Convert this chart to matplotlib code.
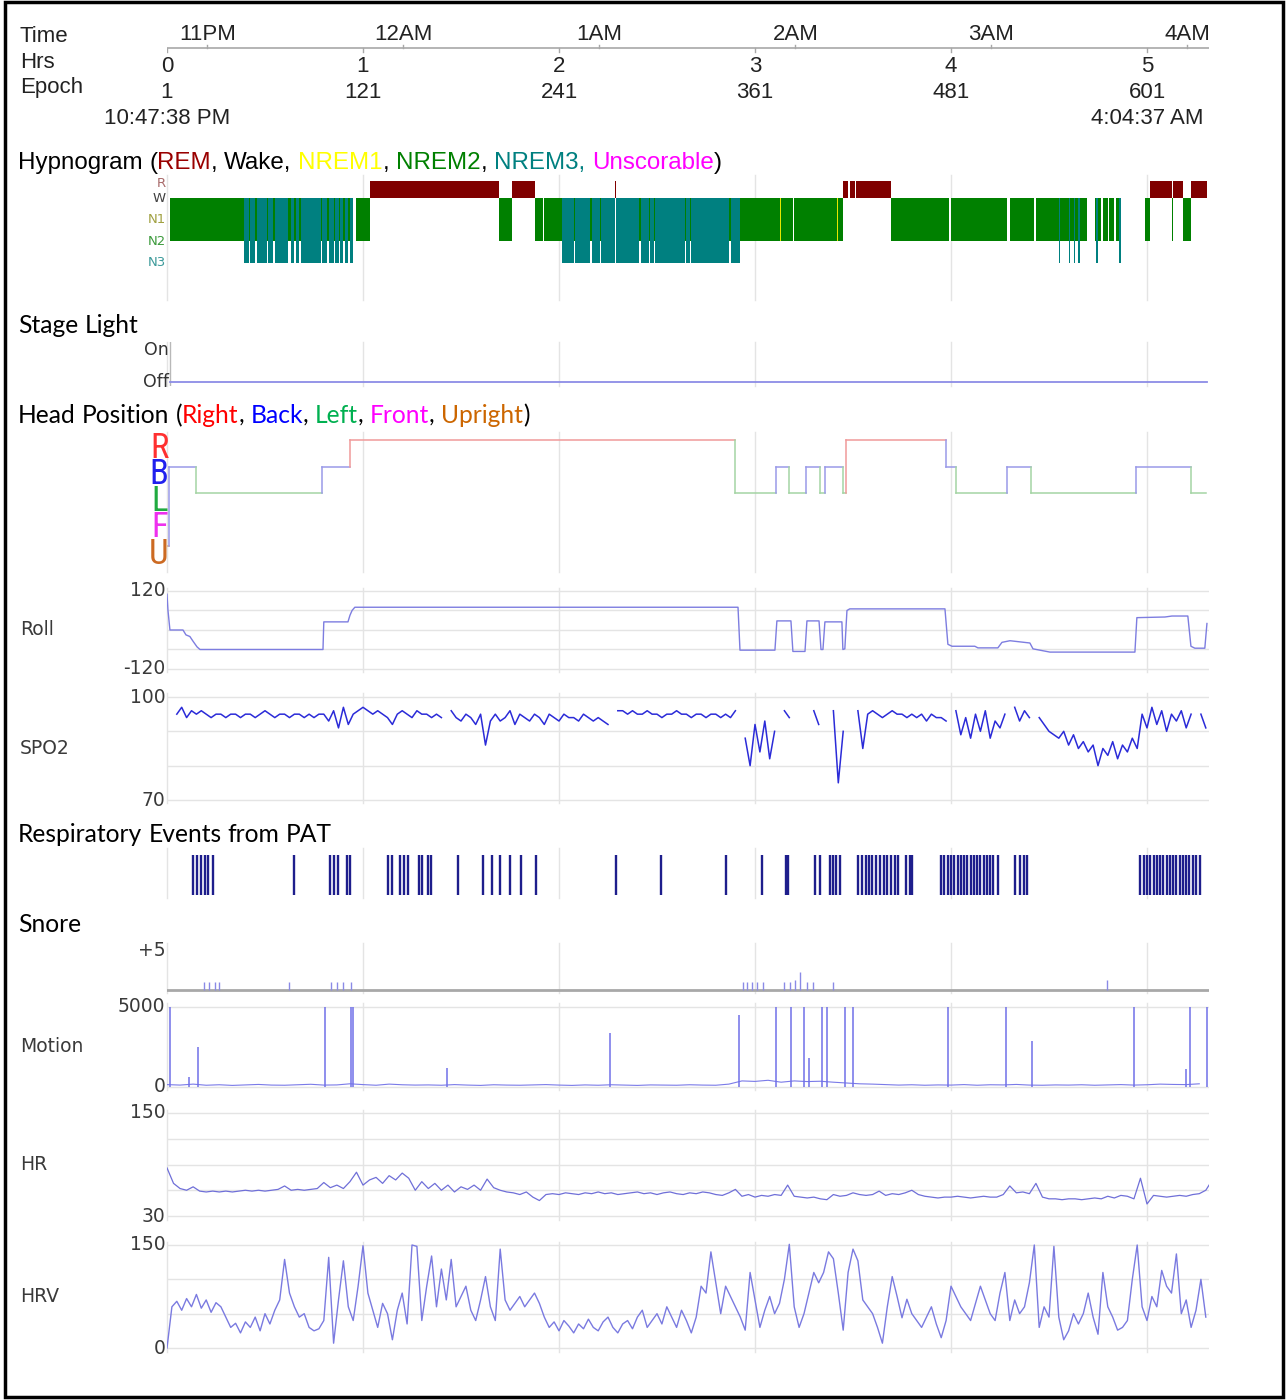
import re
import numpy as np
import matplotlib
matplotlib.use("Agg")
import matplotlib.pyplot as plt
from matplotlib.patches import Rectangle
from matplotlib import font_manager as fm

# ============================ DATA ============================
clock_labels = ["11PM", "12AM", "1AM", "2AM", "3AM", "4AM"]
clock_hour24 = [23, 24, 25, 26, 27, 28]
start_hms = [22, 47, 38]
start_label = "10:47:38 PM"
end_label = "4:04:37 AM"
hour_labels = ["0", "1", "2", "3", "4", "5"]
epoch_labels = [1, 121, 241, 361, 481, 601]

# hypnogram as run-lengths of 30 s epochs
hyp_stage = ["W", "N2", "N3", "N2", "N3", "N2", "N3", "N2", "N3", "N2",
             "N3", "N2", "N3", "N2", "N3", "N2", "N3", "N2", "N3", "N2",
             "N3", "N2", "N3", "N2", "N3", "N2", "N3", "N2", "N3", "W",
             "N2", "R", "N2", "R", "N2", "W", "N2", "N3", "N2", "N3",
             "N2", "N3", "N2", "N3", "R", "N3", "N2", "N3", "N2", "N3",
             "N2", "N3", "N2", "N3", "N2", "N3", "N2", "N3", "N2", "N1",
             "N2", "W", "N2", "N1", "N2", "R", "W", "R", "W", "R",
             "N2", "W", "N2", "W", "N2", "W", "N2", "N3", "N2", "N3",
             "N2", "N3", "N2", "N3", "N2", "W", "N2", "N3", "N2", "W",
             "N2", "W", "N2", "W", "N2", "N3", "W", "N2", "R", "N2",
             "R", "N2", "R"]
hyp_len = [2, 45, 3, 1, 3, 1, 6, 1, 3, 1,
           8, 2, 2, 1, 2, 1, 12, 1, 3, 1,
           3, 1, 2, 1, 2, 1, 2, 1, 2, 2,
           8, 79, 8, 14, 5, 1, 11, 7, 1, 9,
           1, 5, 1, 8, 1, 14, 1, 5, 1, 2,
           1, 18, 1, 2, 1, 23, 1, 6, 24, 1,
           7, 1, 26, 1, 3, 3, 1, 3, 1, 21,
           36, 1, 34, 2, 15, 1, 14, 1, 5, 1,
           2, 1, 2, 1, 4, 5, 1, 1, 2, 1,
           3, 1, 3, 1, 2, 1, 15, 3, 13, 1,
           6, 5, 10]

light_epochs = [3, 638]
light_state = [0, 0]

hp_stage = ["U", "B", "L", "B", "R", "L", "B", "L", "B", "L",
            "B", "L", "R", "B", "L", "B", "L", "B", "L"]
hp_len = [1, 17, 77, 17, 236, 25, 8, 10, 9, 3,
          11, 2, 61, 6, 31, 15, 64, 34, 9]

roll_epochs = [1, 1.6, 2.8, 10.8, 12.6, 15, 17, 19.4, 21.2, 96.5,
               97, 111.8, 113, 114.3, 116, 350.6, 351.8, 373.2, 374.4, 383,
               384.2, 391.6, 392.8, 400.2, 401.4, 402.6, 403.8, 414.2, 414.8, 416,
               417.3, 419, 477.3, 479.1, 481.6, 495.6, 497.5, 509.7, 512.2, 517.1,
               529.3, 531.2, 541.6, 593.6, 594.8, 612, 616.3, 626, 627.9, 630.3,
               636.4, 637.7]
roll_values = [110, 60, 0, 0, -15, -20, -35, -52, -60, -60,
               25, 25, 45, 60, 70, 70, -62, -62, 28, 28,
               -66, -66, 28, 28, -60, -60, 25, 25, -60, -58,
               60, 65, 65, -44, -50, -50, -55, -55, -38, -33,
               -40, -58, -68, -68, 38, 40, 43, 43, -50, -56,
               -56, 20]

nan = float("nan")
spo2_start, spo2_step = 1, 3
spo2 = [nan, nan,
        95, 97, 94, 96, 95, 96, 95, 94, 95, 95, 94, 95, 95, 94, 95,
        95, 94, 95, 96, 95, 94, 95, 95, 94, 95, 95, 94, 95, 94, 95,
        95, 93, 96, 91, 97, 92, 95,
        96, 97, 96, 95, 96, 95, 94, 92, 95, 96, 95, 94, 96, 95, 95, 94, 95, 94,
        nan,
        96, 94, 93, 95, 94, 92, 95, 86, 93, 95, 93, 94, 96, 92, 95, 94, 93,
        95, 94, 92, 95, 94, 93, 95, 94, 94, 93, 95, 94, 93, 94, 93, 92,
        nan,
        96, 96, 95, 96, 95, 95, 96, 95, 95, 94, 95, 95, 96, 95, 95, 94, 95,
        95, 94, 95, 95, 94, 95, 94, 96,
        nan,
        88, 80, 92, 84, 93, 82, 90,
        nan, 96, 94, nan, nan, nan, nan, 96, 92, nan, nan, 96, 75, 90, nan, nan,
        96, 85, 95, 96, 95, 94, 95, 96, 95, 95, 94, 95, 94, 95, 93, 95, 94, 94, 93,
        nan,
        96, 89, 94, 88, 95, 90, 96, 88, 93, 91, 95,
        nan,
        97, 93, 96, 94,
        nan,
        94, 92, 90, 89, 88, 90, 86, 89, 85, 87, 84, 86, 80, 85, 83, 87, 82, 86, 84, 88, 85,
        95, 91, 97, 92, 96, 90, 95, 93, 96, 91, 95,
        nan, 95, 91]

resp_events = [17, 19.5, 22, 24.5, 26, 29, 79, 101, 103, 105.5,
               111, 113, 136, 139, 143.5, 146, 148.5, 155, 157, 161,
               162.5, 179, 194.5, 200, 205, 211, 218, 227, 276, 303.5,
               343, 365, 380, 381, 398, 401, 407, 408.5, 410.5, 413,
               424, 426.5, 429, 431, 432.5, 435, 437.5, 440, 442, 444,
               446.5, 448.5, 453.5, 456, 457, 475, 477, 479, 481, 483,
               485, 487, 489, 491, 493, 495, 497, 499, 501, 503,
               505, 507, 509.5, 520, 523, 525.5, 527.5, 597, 599, 601,
               603, 605, 607, 609, 611, 613, 615, 617, 619, 621,
               623, 625, 627, 629, 631, 633.5]

snore_epochs = [23.7, 26.7, 30.4, 32.8, 75.7, 101.4, 105.1, 108.7, 113.6, 353.6,
                356, 359, 362, 365.9, 378.7, 382.4, 385.5, 388.5, 392.8, 396.5,
                408.7, 576.5]
snore_level = [1, 1, 1, 1, 1, 1, 1, 1, 1, 1,
               1, 1, 1, 1, 1, 1, 1.2, 2.2, 1, 1,
               1, 1.2]

motion_start, motion_step = 1, 8
motion_base = [150, 120, 180, 110, 140, 100, 130, 160, 120, 110,
               140, 170, 120, 130, 200, 150, 110, 180, 140, 120,
               130, 110, 150, 120, 100, 140, 120, 110, 130, 150,
               120, 100, 130, 110, 140, 120, 100, 130, 120, 110,
               140, 120, 110, 180, 380, 350, 420, 300, 380, 340,
               360, 300, 250, 200, 180, 150, 120, 140, 110, 130,
               120, 150, 110, 140, 130, 160, 120, 110, 130, 120,
               140, 110, 130, 150, 120, 140, 180, 160, 150, 200]
motion_spike_epochs = [2.8, 14.5, 20, 98, 113.6, 114.9, 172.4, 272, 351.2, 373.8,
                       383, 391, 394, 402, 405, 416, 421, 479, 514.6, 530.6,
                       593, 624.9, 627.3, 637.7]
motion_spike_values = [5000, 600, 2500, 5000, 5000, 5000, 1200, 3400, 4500, 5000,
                       5000, 5000, 1800, 5000, 5000, 5000, 5000, 5000, 5000, 2900,
                       5000, 1100, 5000, 5000]

hr_start, hr_step = 1, 4
hr = [86, 68, 62, 60, 64, 59, 58, 59, 58, 59,
      58, 59, 60, 59, 60, 59, 60, 61, 65, 60,
      61, 60, 61, 62, 69, 63, 66, 62, 70, 81,
      66, 72, 75, 68, 77, 72, 80, 74, 60, 70,
      62, 68, 60, 66, 58, 64, 61, 66, 60, 73,
      63, 60, 58, 57, 55, 58, 52, 48, 55, 56,
      55, 57, 56, 55, 57, 56, 58, 56, 57, 55,
      56, 57, 58, 56, 57, 55, 57, 58, 56, 55,
      57, 56, 58, 57, 55, 54, 57, 61, 53, 55,
      52, 54, 53, 55, 54, 66, 53, 52, 51, 52,
      50, 49, 55, 53, 54, 57, 55, 54, 55, 59,
      54, 56, 55, 57, 60, 55, 53, 52, 51, 52,
      52, 53, 52, 51, 52, 53, 52, 52, 55, 65,
      57, 58, 56, 68, 52, 50, 50, 49, 50, 50,
      49, 50, 51, 50, 53, 51, 54, 53, 50, 74,
      44, 54, 53, 52, 53, 54, 53, 55, 56, 60,
      72]

hrv_start, hrv_step = 1, 3
hrv = [0, 60, 68, 55, 72, 60, 78, 58, 70, 52,
       66, 60, 45, 30, 36, 22, 38, 30, 45, 25,
       50, 35, 55, 70, 129, 80, 60, 45, 50, 30,
       25, 28, 40, 132, 7, 70, 127, 60, 40, 90,
       149, 80, 55, 30, 65, 50, 12, 55, 80, 35,
       150, 148, 40, 90, 134, 60, 115, 70, 129, 60,
       75, 90, 55, 40, 70, 104, 60, 40, 144, 70,
       55, 65, 75, 60, 70, 80, 65, 45, 30, 38,
       25, 40, 32, 22, 35, 28, 42, 30, 25, 38,
       45, 30, 22, 35, 40, 28, 45, 55, 30, 40,
       50, 35, 60, 45, 30, 55, 40, 22, 45, 90,
       80, 140, 95, 50, 90, 75, 60, 45, 26, 110,
       70, 30, 55, 75, 50, 65, 100, 151, 60, 30,
       50, 80, 110, 95, 110, 140, 130, 80, 26, 110,
       144, 127, 70, 60, 50, 30, 7, 60, 104, 75,
       44, 71, 50, 40, 30, 45, 60, 35, 15, 40,
       90, 75, 60, 50, 40, 65, 90, 70, 50, 40,
       80, 110, 40, 70, 50, 60, 95, 150, 30, 60,
       45, 148, 45, 12, 25, 50, 35, 50, 80, 45,
       20, 110, 60, 45, 26, 30, 40, 100, 150, 60,
       40, 75, 60, 113, 90, 80, 137, 50, 70, 30,
       55, 100, 45]

# ============================ LAYOUT ============================
W, H = 1287, 1400
DPI = 100
fig = plt.figure(figsize=(W / DPI, H / DPI), dpi=DPI)
fig.patch.set_facecolor("white")

LEFT_PX, RIGHT_PX = 167, 1209
PX_PER_EPOCH = 196 / 120
X_MIN = 1
X_MAX = 1 + (RIGHT_PX - LEFT_PX) / PX_PER_EPOCH

GRID = "#e4e4e4"
SANS = ["Liberation Sans", "DejaVu Sans"]
WIDE = ["DejaVu Sans"]
CAL = ["Lato", "DejaVu Sans"]
TXT = "#222222"
LBL = "#3a3a3a"


def pick_narrow_font():
    prefs = ["Liberation Sans Narrow", "Roboto Condensed", "Open Sans Condensed",
             "Noto Sans", "DejaVu Sans", "Roboto", "Open Sans"]
    cands = []
    for f in fm.fontManager.ttflist:
        if f.style != "normal" or f.weight not in (400, "normal", "regular"):
            continue
        st = str(f.stretch)
        narrow = ("Narrow" in f.name or "Condensed" in f.name
                  or st in ("condensed", "semi-condensed", "extra-condensed")
                  or (isinstance(f.stretch, (int, float)) and f.stretch < 500))
        if narrow:
            for rank, p in enumerate(prefs):
                if f.name.startswith(p):
                    cands.append((rank, f.fname))
                    break
    if cands:
        cands.sort()
        return fm.FontProperties(fname=cands[0][1]), True
    return fm.FontProperties(family=SANS), False


NARROW_FP, HAVE_NARROW = pick_narrow_font()


def fy(py):
    return 1 - py / H


def panel(top, bottom, va=None, pa=None, vb=None, pb=None):
    ax = fig.add_axes([LEFT_PX / W, fy(bottom), (RIGHT_PX - LEFT_PX) / W, (bottom - top) / H])
    ax.set_xlim(X_MIN, X_MAX)
    if va is not None:
        upp = (va - vb) / (pb - pa)
        ax.set_ylim(va - (bottom - pa) * upp, va + (pa - top) * upp)
    else:
        ax.set_ylim(0, 1)
    ax.set_axis_off()
    return ax


def vgrid(ax, color=GRID):
    for e in epoch_labels:
        ax.axvline(e, color=color, lw=1, zorder=0, clip_on=False)


def hgrid(ax, values, color=GRID):
    for v in values:
        ax.axhline(v, color=color, lw=1, zorder=0)


def ylabels(ax, values, texts, size=13.5, color=LBL):
    for v, t in zip(values, texts):
        ax.text(X_MIN - 1.0, v, t, ha="right", va="center", fontsize=size,
                family=WIDE, color=color, clip_on=False)


def side_label(py, text, size=13.5):
    fig.text(20 / W, fy(py), text, ha="left", va="center", fontsize=size,
             family=WIDE, color=LBL)


renderer = fig.canvas.get_renderer()


def rich_text(x_px, y_px, parts, size, family):
    def measure(s):
        t = fig.text(0, 0, s, fontsize=size, family=family)
        w = t.get_window_extent(renderer=renderer).width
        t.remove()
        return w
    space = measure("n n") - measure("nn")
    x = x_px
    for s, c in parts:
        for tok in re.split(r"( )", s):
            if not tok:
                continue
            if tok == " ":
                x += space
                continue
            t = fig.text(x / W, fy(y_px), tok, fontsize=size, family=family,
                         color=c, ha="left", va="baseline")
            x += t.get_window_extent(renderer=renderer).width


# --------------------------- frame ---------------------------
fig.add_artist(Rectangle((5 / W, fy(1397)), (1283 - 5) / W, (1397 - 2) / H,
                         transform=fig.transFigure, fill=False, lw=2.5, ec="black"))

# --------------------------- header ---------------------------
axh = panel(20, 130)
axh.set_ylim(130, 20)
start_sec = start_hms[0] * 3600 + start_hms[1] * 60 + start_hms[2]
clock_pos = [1 + (h * 3600 - start_sec) / 30 for h in clock_hour24]
axh.plot([X_MIN, X_MAX], [48, 48], color="#a8a8a8", lw=1.2)
for e in epoch_labels:
    axh.plot([e, e], [48, 52], color="#a8a8a8", lw=1)
for e in clock_pos:
    axh.plot([e, e], [45, 48], color="#a8a8a8", lw=1)
HS = 16
for e, lab in zip(clock_pos, clock_labels):
    axh.text(e, 35, lab, ha="center", va="center", fontsize=HS, family=SANS, color=TXT)
for e, lab in zip(epoch_labels, hour_labels):
    axh.text(e, 67, lab, ha="center", va="center", fontsize=HS, family=SANS, color=TXT)
for e in epoch_labels:
    axh.text(e, 92, str(e), ha="center", va="center", fontsize=HS, family=SANS, color=TXT)
axh.text(epoch_labels[0], 118, start_label, ha="center", va="center", fontsize=HS, family=SANS, color=TXT)
axh.text(epoch_labels[-1], 118, end_label, ha="center", va="center", fontsize=HS, family=SANS, color=TXT)
for py, lab in [(37, "Time"), (62, "Hrs"), (87, "Epoch")]:
    fig.text(20 / W, fy(py), lab, ha="left", va="center", fontsize=HS, family=SANS, color=TXT)

# --------------------------- hypnogram ---------------------------
rich_text(18, 169, [("Hypnogram (", "black"), ("REM", "#990000"), (", Wake, ", "black"),
                    ("NREM1", "#ffff00"), (", ", "black"), ("NREM2", "#008000"), (", ", "black"),
                    ("NREM3, ", "#008080"), ("Unscorable", "#ff00ff"), (")", "black")],
          17.4, SANS)
axy = panel(175, 300, 4.0, 198, 1.0, 263)
vgrid(axy)
stage_bottom = {"N1": 2.0, "N2": 2.0, "N3": 1.0}
stage_col = {"R": "#800000", "N1": "#e6e600", "N2": "#008000", "N3": "#008080"}
pos = X_MIN
for st, n in zip(hyp_stage, hyp_len):
    if st == "R":
        axy.bar(pos, 0.78, width=n, bottom=4.0, align="edge", color=stage_col[st], lw=0, zorder=2)
    elif st != "W":
        b = stage_bottom[st]
        axy.bar(pos, 4.0 - b, width=n, bottom=b, align="edge", color=stage_col[st], lw=0, zorder=2)
    pos += n
for lab, v, c in [("R", 4.69, "#a86a6a"), ("W", 4.0, "#404040"), ("N1", 3.0, "#a0a040"),
                  ("N2", 2.0, "#3c9a3c"), ("N3", 1.0, "#3c9a9a")]:
    axy.text(X_MIN - 0.6, v, lab, ha="right", va="center", fontsize=9.5, family=WIDE,
             color=c, clip_on=False)

# --------------------------- stage light ---------------------------
CS = 17.7
rich_text(18, 333, [("Stage Light", "black")], CS, CAL)
axl = panel(342, 386, 1, 350, 0, 382)
vgrid(axl)
axl.axvline(X_MIN + 2, color="#b8b8b8", lw=1, zorder=1)
axl.plot(light_epochs, light_state, color="#8c8ce6", lw=1.3)
for lab, v in [("On", 1), ("Off", 0)]:
    axl.text(X_MIN + 1, v, lab, ha="right", va="center", fontsize=12.5, family=WIDE,
             color="#333333", clip_on=False)

# --------------------------- head position ---------------------------
rich_text(18, 423, [("Head Position (", "black"), ("Right", "#ff0000"), (", ", "black"),
                    ("Back", "#0000ff"), (", ", "black"), ("Left", "#00b050"), (", ", "black"),
                    ("Front", "#ff00ff"), (", ", "black"), ("Upright", "#cc6600"), (")", "black")],
          CS, CAL)
axp = panel(432, 572, 4, 440, 0, 546)
vgrid(axp)
hp_level = {"R": 4, "B": 3, "L": 2, "F": 1, "U": 0}
hp_line = {"R": "#f09a9a", "B": "#9a9ae8", "L": "#a4d4a4", "F": "#f0a0f0", "U": "#ddb080"}
hp_text = {"R": "#ff3030", "B": "#2020ee", "L": "#20aa40", "F": "#ee30ee", "U": "#cc6a22"}
pos = X_MIN
prev = None
for st, n in zip(hp_stage, hp_len):
    y = hp_level[st]
    if prev is not None:
        axp.plot([pos, pos], [hp_level[prev], y], color=hp_line[st], lw=1.1)
    axp.plot([pos, pos + n], [y, y], color=hp_line[st], lw=1.1)
    pos += n
    prev = st
letter_size = 25 if HAVE_NARROW else 20
for k in ["R", "B", "L", "F", "U"]:
    axp.text(X_MIN + 0.8, hp_level[k] - 0.32, k, ha="right", va="center", fontsize=letter_size,
             fontproperties=NARROW_FP, color=hp_text[k], clip_on=False)

# --------------------------- roll ---------------------------
axr = panel(588, 672, 120, 591, -120, 669)
vgrid(axr)
hgrid(axr, [120, 60, 0, -60, -120])
axr.plot(roll_epochs, roll_values, color="#7d7de0", lw=1)
ylabels(axr, [120, -120], ["120", "-120"])
side_label(630, "Roll")

# --------------------------- SPO2 ---------------------------
axs = panel(693, 803, 100, 697, 70, 800)
vgrid(axs)
hgrid(axs, [100, 90, 80, 70])
xs = spo2_start + spo2_step * np.arange(len(spo2))
axs.plot(xs, spo2, color="#2b2bd8", lw=1.1)
ylabels(axs, [100, 70], ["100", "70"])
side_label(748, "SPO2")

# --------------------------- respiratory events ---------------------------
rich_text(18, 842, [("Respiratory Events from PAT", "black")], CS, CAL)
axe = panel(848, 898)
vgrid(axe)
axe.vlines(resp_events, 0.06, 0.86, color="#1e1e8c", lw=1.7)

# --------------------------- snore ---------------------------
rich_text(18, 932, [("Snore", "black")], CS, CAL)
axn = panel(943, 993, 5, 950, 0, 990)
vgrid(axn)
axn.axhline(0, color="#a8a8a8", lw=2, zorder=1)
axn.vlines(snore_epochs, 0, snore_level, color="#8a8ae6", lw=1, zorder=2)
ylabels(axn, [5], ["+5"])

# --------------------------- motion ---------------------------
axm = panel(1003, 1090, 5000, 1007, 0, 1087)
vgrid(axm)
hgrid(axm, [5000, 0])
xm = motion_start + motion_step * np.arange(len(motion_base))
axm.plot(xm, motion_base, color="#7a7ae8", lw=0.8)
axm.vlines(motion_spike_epochs, 0, motion_spike_values, color="#7070e8", lw=1.1)
ylabels(axm, [5000, 0], ["5000", "0"])
side_label(1047, "Motion")

# --------------------------- HR ---------------------------
axhr = panel(1110, 1220, 150, 1113, 30, 1216)
vgrid(axhr)
hgrid(axhr, [150, 120, 90, 60, 30])
xh = hr_start + hr_step * np.arange(len(hr))
axhr.plot(xh, hr, color="#6f6fd8", lw=0.9)
ylabels(axhr, [150, 30], ["150", "30"])
side_label(1165, "HR")

# --------------------------- HRV ---------------------------
axv = panel(1242, 1352, 150, 1245, 0, 1348)
vgrid(axv)
hgrid(axv, [150, 100, 50, 0])
xv = hrv_start + hrv_step * np.arange(len(hrv))
axv.plot(xv, hrv, color="#7a7ae0", lw=1)
ylabels(axv, [150, 0], ["150", "0"])
side_label(1297, "HRV")

fig.savefig("out.png", dpi=DPI, facecolor="white")
